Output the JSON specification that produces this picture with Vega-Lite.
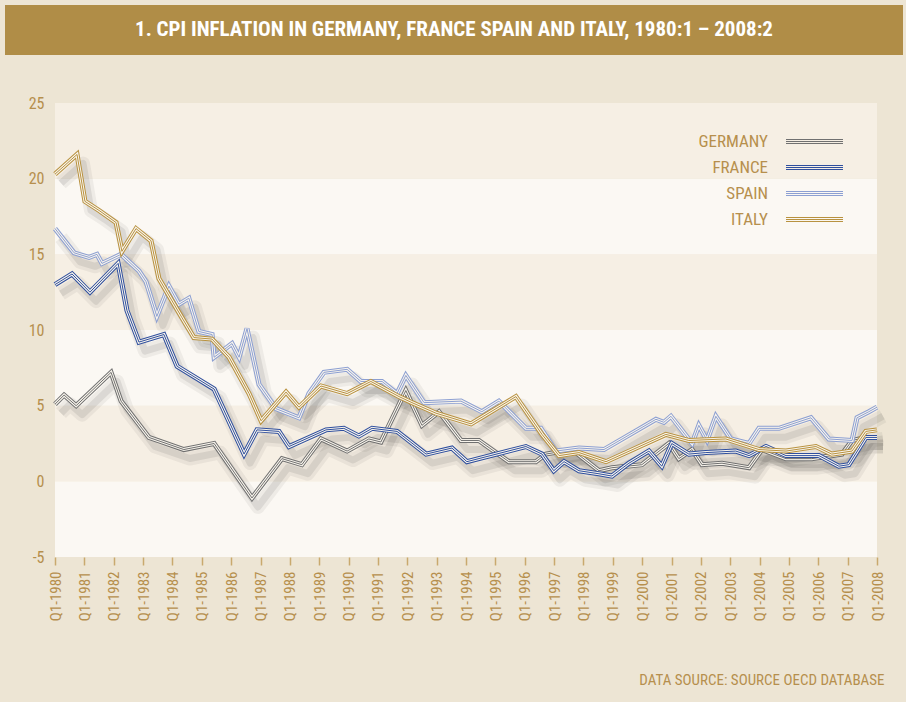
{
  "$schema": "https://vega.github.io/schema/vega-lite/v6.json",
  "background": "#EDE5D4",
  "padding": {"left": 5, "top": 5, "right": 3, "bottom": 16},
  "spacing": 40,
  "config": {
    "font": "'Roboto Condensed', 'DejaVu Sans Condensed', 'Liberation Sans Narrow', Roboto, sans-serif",
    "axisX": {"labelExpr": "'Q1-' + datum.value", "grid": false, "domain": false, "ticks": true, "tickColor": "#C9A96E", "tickSize": 8, "tickWidth": 1.5,
      "labelAngle": 270, "labelAlign": "right", "labelBaseline": "middle", "labelPadding": 6, "labelFontSize": 15, "labelColor": "#B68F4D", "labelOverlap": false,
      "titleX": 879, "titleY": 122, "titleAlign": "right", "titleBaseline": "middle", "titleFontSize": 15, "titleFontWeight": "normal", "titleColor": "#B68F4D"},
    "axisY": {"labelExpr": "datum.value < 0 ? '-' + abs(datum.value) : '' + datum.value", "grid": false, "domain": false, "ticks": false, "offset": -50, "labelPadding": 11, "labelFontSize": 16, "labelColor": "#B68F4D"}
  },
  "datasets": {
    "series": [
      {"c":"GERMANY","t":1980.0,"v":5.1},{"c":"GERMANY","t":1980.31,"v":5.7},{"c":"GERMANY","t":1980.72,"v":5.0},{"c":"GERMANY","t":1981.91,"v":7.2},{"c":"GERMANY","t":1982.25,"v":5.3},{"c":"GERMANY","t":1983.2,"v":2.9},{"c":"GERMANY","t":1984.39,"v":2.1},{"c":"GERMANY","t":1985.42,"v":2.5},{"c":"GERMANY","t":1986.71,"v":-1.1},{"c":"GERMANY","t":1987.73,"v":1.5},{"c":"GERMANY","t":1988.41,"v":1.1},{"c":"GERMANY","t":1989.06,"v":2.8},{"c":"GERMANY","t":1989.95,"v":2.0},{"c":"GERMANY","t":1990.69,"v":2.8},{"c":"GERMANY","t":1991.1,"v":2.6},{"c":"GERMANY","t":1991.95,"v":6.0},{"c":"GERMANY","t":1992.5,"v":3.7},{"c":"GERMANY","t":1993.08,"v":4.6},{"c":"GERMANY","t":1993.83,"v":2.7},{"c":"GERMANY","t":1994.44,"v":2.7},{"c":"GERMANY","t":1995.46,"v":1.3},{"c":"GERMANY","t":1996.38,"v":1.3},{"c":"GERMANY","t":1996.72,"v":1.8},{"c":"GERMANY","t":1997.61,"v":2.1},{"c":"GERMANY","t":1998.53,"v":0.7},{"c":"GERMANY","t":1998.97,"v":0.9},{"c":"GERMANY","t":1999.99,"v":1.1},{"c":"GERMANY","t":2000.91,"v":2.5},{"c":"GERMANY","t":2001.25,"v":1.5},{"c":"GERMANY","t":2001.7,"v":2.1},{"c":"GERMANY","t":2002.04,"v":1.1},{"c":"GERMANY","t":2002.72,"v":1.2},{"c":"GERMANY","t":2003.64,"v":0.9},{"c":"GERMANY","t":2004.08,"v":2.1},{"c":"GERMANY","t":2004.9,"v":1.5},{"c":"GERMANY","t":2005.78,"v":1.5},{"c":"GERMANY","t":2006.81,"v":1.8},{"c":"GERMANY","t":2007.15,"v":2.7},{"c":"GERMANY","t":2007.62,"v":2.9},{"c":"GERMANY","t":2008.0,"v":2.9},
      {"c":"FRANCE","t":1980.0,"v":13.0},{"c":"FRANCE","t":1980.58,"v":13.7},{"c":"FRANCE","t":1981.19,"v":12.5},{"c":"FRANCE","t":1982.15,"v":14.4},{"c":"FRANCE","t":1982.45,"v":11.3},{"c":"FRANCE","t":1982.86,"v":9.2},{"c":"FRANCE","t":1983.71,"v":9.7},{"c":"FRANCE","t":1984.16,"v":7.6},{"c":"FRANCE","t":1985.42,"v":6.1},{"c":"FRANCE","t":1986.44,"v":1.8},{"c":"FRANCE","t":1986.88,"v":3.4},{"c":"FRANCE","t":1987.63,"v":3.3},{"c":"FRANCE","t":1987.97,"v":2.3},{"c":"FRANCE","t":1989.23,"v":3.4},{"c":"FRANCE","t":1989.84,"v":3.5},{"c":"FRANCE","t":1990.35,"v":3.0},{"c":"FRANCE","t":1990.8,"v":3.5},{"c":"FRANCE","t":1991.65,"v":3.3},{"c":"FRANCE","t":1992.64,"v":1.8},{"c":"FRANCE","t":1993.52,"v":2.2},{"c":"FRANCE","t":1994.03,"v":1.3},{"c":"FRANCE","t":1996.04,"v":2.3},{"c":"FRANCE","t":1996.59,"v":1.8},{"c":"FRANCE","t":1996.99,"v":0.7},{"c":"FRANCE","t":1997.34,"v":1.3},{"c":"FRANCE","t":1997.85,"v":0.7},{"c":"FRANCE","t":1998.53,"v":0.5},{"c":"FRANCE","t":1998.97,"v":0.35},{"c":"FRANCE","t":1999.55,"v":1.2},{"c":"FRANCE","t":2000.23,"v":2.0},{"c":"FRANCE","t":2000.67,"v":1.0},{"c":"FRANCE","t":2001.01,"v":2.5},{"c":"FRANCE","t":2001.59,"v":1.8},{"c":"FRANCE","t":2002.17,"v":1.9},{"c":"FRANCE","t":2003.19,"v":2.0},{"c":"FRANCE","t":2003.64,"v":1.7},{"c":"FRANCE","t":2004.22,"v":2.3},{"c":"FRANCE","t":2004.9,"v":1.7},{"c":"FRANCE","t":2006.02,"v":1.7},{"c":"FRANCE","t":2006.7,"v":1.0},{"c":"FRANCE","t":2007.04,"v":1.1},{"c":"FRANCE","t":2007.62,"v":2.9},{"c":"FRANCE","t":2008.0,"v":2.9},
      {"c":"SPAIN","t":1980.0,"v":16.7},{"c":"SPAIN","t":1980.65,"v":15.1},{"c":"SPAIN","t":1981.16,"v":14.8},{"c":"SPAIN","t":1981.43,"v":15.0},{"c":"SPAIN","t":1981.6,"v":14.4},{"c":"SPAIN","t":1982.25,"v":15.0},{"c":"SPAIN","t":1982.86,"v":13.9},{"c":"SPAIN","t":1983.1,"v":13.2},{"c":"SPAIN","t":1983.47,"v":10.9},{"c":"SPAIN","t":1983.88,"v":12.9},{"c":"SPAIN","t":1984.22,"v":11.7},{"c":"SPAIN","t":1984.56,"v":12.1},{"c":"SPAIN","t":1984.9,"v":9.9},{"c":"SPAIN","t":1985.35,"v":9.7},{"c":"SPAIN","t":1985.42,"v":8.2},{"c":"SPAIN","t":1986.03,"v":9.1},{"c":"SPAIN","t":1986.27,"v":8.2},{"c":"SPAIN","t":1986.54,"v":10.1},{"c":"SPAIN","t":1986.95,"v":6.4},{"c":"SPAIN","t":1987.53,"v":4.8},{"c":"SPAIN","t":1988.31,"v":4.2},{"c":"SPAIN","t":1988.65,"v":5.8},{"c":"SPAIN","t":1989.16,"v":7.2},{"c":"SPAIN","t":1989.95,"v":7.4},{"c":"SPAIN","t":1990.42,"v":6.6},{"c":"SPAIN","t":1991.14,"v":6.6},{"c":"SPAIN","t":1991.65,"v":5.8},{"c":"SPAIN","t":1991.95,"v":7.0},{"c":"SPAIN","t":1992.57,"v":5.2},{"c":"SPAIN","t":1993.83,"v":5.3},{"c":"SPAIN","t":1994.54,"v":4.6},{"c":"SPAIN","t":1995.12,"v":5.3},{"c":"SPAIN","t":1996.04,"v":3.5},{"c":"SPAIN","t":1996.55,"v":3.5},{"c":"SPAIN","t":1997.06,"v":2.0},{"c":"SPAIN","t":1997.85,"v":2.2},{"c":"SPAIN","t":1998.7,"v":2.1},{"c":"SPAIN","t":2000.47,"v":4.1},{"c":"SPAIN","t":2000.74,"v":3.9},{"c":"SPAIN","t":2000.98,"v":4.3},{"c":"SPAIN","t":2001.7,"v":2.5},{"c":"SPAIN","t":2001.93,"v":3.7},{"c":"SPAIN","t":2002.21,"v":2.7},{"c":"SPAIN","t":2002.51,"v":4.3},{"c":"SPAIN","t":2003.02,"v":2.8},{"c":"SPAIN","t":2003.64,"v":2.5},{"c":"SPAIN","t":2003.98,"v":3.5},{"c":"SPAIN","t":2004.66,"v":3.5},{"c":"SPAIN","t":2005.75,"v":4.2},{"c":"SPAIN","t":2006.36,"v":2.8},{"c":"SPAIN","t":2007.15,"v":2.7},{"c":"SPAIN","t":2007.32,"v":4.2},{"c":"SPAIN","t":2007.72,"v":4.6},{"c":"SPAIN","t":2008.0,"v":4.9},
      {"c":"ITALY","t":1980.0,"v":20.3},{"c":"ITALY","t":1980.75,"v":21.6},{"c":"ITALY","t":1981.02,"v":18.5},{"c":"ITALY","t":1981.5,"v":17.9},{"c":"ITALY","t":1982.08,"v":17.1},{"c":"ITALY","t":1982.28,"v":15.2},{"c":"ITALY","t":1982.76,"v":16.7},{"c":"ITALY","t":1983.27,"v":15.9},{"c":"ITALY","t":1983.54,"v":13.4},{"c":"ITALY","t":1984.33,"v":10.8},{"c":"ITALY","t":1984.73,"v":9.5},{"c":"ITALY","t":1985.35,"v":9.4},{"c":"ITALY","t":1985.93,"v":8.2},{"c":"ITALY","t":1986.61,"v":5.8},{"c":"ITALY","t":1987.02,"v":4.0},{"c":"ITALY","t":1987.87,"v":5.9},{"c":"ITALY","t":1988.31,"v":4.9},{"c":"ITALY","t":1989.06,"v":6.3},{"c":"ITALY","t":1989.95,"v":5.8},{"c":"ITALY","t":1990.76,"v":6.6},{"c":"ITALY","t":1991.72,"v":5.6},{"c":"ITALY","t":1992.16,"v":5.2},{"c":"ITALY","t":1992.98,"v":4.5},{"c":"ITALY","t":1994.17,"v":3.8},{"c":"ITALY","t":1994.68,"v":4.4},{"c":"ITALY","t":1995.7,"v":5.6},{"c":"ITALY","t":1996.59,"v":3.1},{"c":"ITALY","t":1997.17,"v":1.7},{"c":"ITALY","t":1997.85,"v":1.9},{"c":"ITALY","t":1998.77,"v":1.3},{"c":"ITALY","t":2000.81,"v":3.1},{"c":"ITALY","t":2001.59,"v":2.7},{"c":"ITALY","t":2002.85,"v":2.8},{"c":"ITALY","t":2003.98,"v":2.1},{"c":"ITALY","t":2004.9,"v":2.0},{"c":"ITALY","t":2005.92,"v":2.3},{"c":"ITALY","t":2006.46,"v":1.8},{"c":"ITALY","t":2007.15,"v":2.0},{"c":"ITALY","t":2007.62,"v":3.3},{"c":"ITALY","t":2008.0,"v":3.4}
    ],
    "bands": [{"lo": -5, "hi": 0, "shade": "light"}, {"lo": 0, "hi": 5, "shade": "dark"}, {"lo": 5, "hi": 10, "shade": "light"}, {"lo": 10, "hi": 15, "shade": "dark"}, {"lo": 15, "hi": 20, "shade": "light"}, {"lo": 20, "hi": 25, "shade": "dark"}]
  },
  "vconcat": [
    {
      "width": 898,
      "height": 50,
      "view": {"fill": "#B08D47", "stroke": null},
      "data": {"values": [{"label": "1. CPI INFLATION IN GERMANY, FRANCE SPAIN AND ITALY, 1980:1 – 2008:2"}]},
      "mark": {"type": "text", "color": "#FFFFFF", "fontSize": 21, "fontWeight": "bold", "align": "center", "baseline": "middle"},
      "encoding": {"text": {"field": "label"}}
    },
    {
      "width": 872,
      "height": 454,
      "view": {"fill": null, "stroke": null},
      "layer": [
        {"data": {"name": "bands"}, "mark": {"type": "rect"},
          "encoding": {
            "x": {"datum": 1980, "type": "quantitative", "scale": {"domain": [1978.2968, 2008], "nice": false, "zero": false}, "title": "DATA SOURCE: SOURCE OECD DATABASE",
              "axis": {"values": [1980,1981,1982,1983,1984,1985,1986,1987,1988,1989,1990,1991,1992,1993,1994,1995,1996,1997,1998,1999,2000,2001,2002,2003,2004,2005,2006,2007,2008]}},
            "x2": {"datum": 2008},
            "y": {"field": "lo", "type": "quantitative", "scale": {"domain": [-5, 25], "nice": false, "zero": false}, "title": null, "axis": {"values": [-5,0,5,10,15,20,25]}},
            "y2": {"field": "hi"},
            "fill": {"field": "shade", "type": "nominal", "scale": {"domain": ["light", "dark"], "range": ["#FBF8F3", "#F6EFE4"]}, "legend": null}
          }},
        {"data": {"name": "series"},
          "encoding": {
            "x": {"field": "t", "type": "quantitative", "title": "DATA SOURCE: SOURCE OECD DATABASE",
              "axis": {"values": [1980,1981,1982,1983,1984,1985,1986,1987,1988,1989,1990,1991,1992,1993,1994,1995,1996,1997,1998,1999,2000,2001,2002,2003,2004,2005,2006,2007,2008]}},
            "y": {"field": "v", "type": "quantitative", "title": null, "axis": {"values": [-5,0,5,10,15,20,25]}}
          },
          "layer": [
            {"mark": {"type": "line", "stroke": "#000000", "opacity": 0.05, "strokeWidth": 14, "xOffset": 6, "yOffset": 9, "strokeJoin": "round"}, "encoding": {"detail": {"field": "c"}}},
            {"mark": {"type": "line", "stroke": "#000000", "opacity": 0.08, "strokeWidth": 7, "xOffset": 6, "yOffset": 9, "strokeJoin": "round"}, "encoding": {"detail": {"field": "c"}}},
            {"transform": [{"filter": "datum.c === 'GERMANY'"}], "mark": {"type": "line", "strokeWidth": 5},
              "encoding": {"stroke": {"field": "c", "type": "nominal", "scale": {"domain": ["GERMANY","FRANCE","SPAIN","ITALY"], "range": ["#707070","#2F4F9E","#8C9FD2","#B8913E"]},
                "legend": {"orient": "none", "legendX": 801, "legendY": 128, "title": null, "padding": 0, "symbolType": "M-4,-0.28H4M-4,0H4M-4,0.28H4", "symbolSize": 203, "symbolStrokeWidth": 1, "symbolFillColor": "transparent", "labelAlign": "right", "labelOffset": -55, "labelFontSize": 17, "labelColor": "#B68F4D", "rowPadding": 8}}}},
            {"transform": [{"filter": "datum.c === 'GERMANY'"}], "mark": {"type": "line", "strokeWidth": 3, "stroke": "#F8F4EC"}, "encoding": {"detail": {"field": "c"}}},
            {"transform": [{"filter": "datum.c === 'GERMANY'"}], "mark": {"type": "line", "strokeWidth": 1}, "encoding": {"stroke": {"field": "c", "type": "nominal", "legend": null}}},
            {"transform": [{"filter": "datum.c === 'FRANCE'"}], "mark": {"type": "line", "strokeWidth": 5}, "encoding": {"stroke": {"field": "c", "type": "nominal"}}},
            {"transform": [{"filter": "datum.c === 'FRANCE'"}], "mark": {"type": "line", "strokeWidth": 3, "stroke": "#F8F4EC"}, "encoding": {"detail": {"field": "c"}}},
            {"transform": [{"filter": "datum.c === 'FRANCE'"}], "mark": {"type": "line", "strokeWidth": 1}, "encoding": {"stroke": {"field": "c", "type": "nominal"}}},
            {"transform": [{"filter": "datum.c === 'SPAIN'"}], "mark": {"type": "line", "strokeWidth": 5}, "encoding": {"stroke": {"field": "c", "type": "nominal"}}},
            {"transform": [{"filter": "datum.c === 'SPAIN'"}], "mark": {"type": "line", "strokeWidth": 3, "stroke": "#F8F4EC"}, "encoding": {"detail": {"field": "c"}}},
            {"transform": [{"filter": "datum.c === 'SPAIN'"}], "mark": {"type": "line", "strokeWidth": 1}, "encoding": {"stroke": {"field": "c", "type": "nominal"}}},
            {"transform": [{"filter": "datum.c === 'ITALY'"}], "mark": {"type": "line", "strokeWidth": 5}, "encoding": {"stroke": {"field": "c", "type": "nominal"}}},
            {"transform": [{"filter": "datum.c === 'ITALY'"}], "mark": {"type": "line", "strokeWidth": 3, "stroke": "#F8F4EC"}, "encoding": {"detail": {"field": "c"}}},
            {"transform": [{"filter": "datum.c === 'ITALY'"}], "mark": {"type": "line", "strokeWidth": 1}, "encoding": {"stroke": {"field": "c", "type": "nominal"}}}
          ]
        }
      ]
    }
  ]
}
